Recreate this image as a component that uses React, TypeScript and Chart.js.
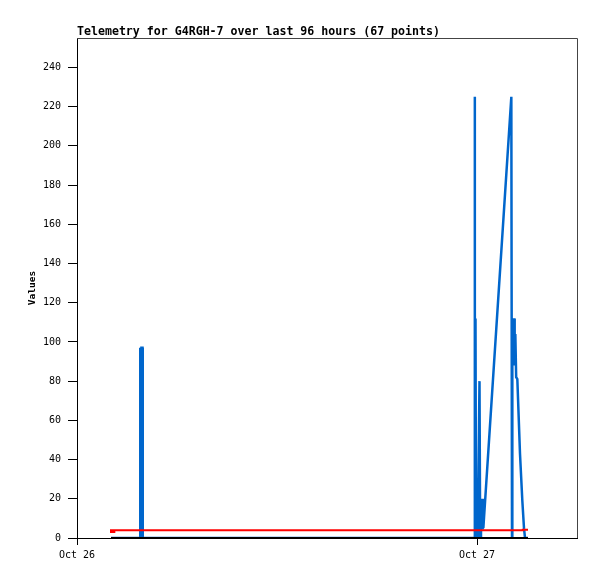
import React, { useEffect, useRef } from "react";
import { Chart, registerables } from "chart.js";

Chart.register(...registerables);

// Hours since Oct 26 00:00
const times = [
  2.04, 2.28, 2.34, 3.785, 3.795, 3.855, 3.865, 3.93, 3.945, 23.84, 23.86, 23.88, 23.91, 23.94, 23.97,
  24.0, 24.03, 24.06, 24.15, 24.19, 24.24, 24.3, 24.34, 24.38, 26.06, 26.1, 26.12, 26.18, 26.22,
  26.26, 26.3, 26.35, 26.42, 26.58, 26.72, 26.82, 26.88, 27.06,
];
const blueValues = [
  0, 0, 0, 0, 97, 0, 97, 97, 0, 0, 225, 0, 112, 0, 24,
  0, 16, 2, 80, 0, 20, 5, 20, 5, 225, 1, 112, 100, 112,
  88, 104, 82, 81, 43, 19, 5, 0, 0,
];
const blackValues = [
  0, 0, 0, 0, 0, 0, 0, 0, 0, 0, 0, 0, 0, 0, 0,
  0, 0, 0, 0, 0, 0, 0, 0, 0, 0, 0, 0, 0, 0,
  0, 0, 0, 0, 0, 0, 0, 0, 0,
];
// red series has its own sample times
const redTimes = [2.3, 2.04, 2.04, 26.7, 26.75, 27.06];
const redValues = [3, 3, 4, 4, 4.2, 4.2];

const xTickValues = [0, 24];
const xTickLabels = ["Oct 26", "Oct 27"];
const yTickValues = [0, 20, 40, 60, 80, 100, 120, 140, 160, 180, 200, 220, 240];
const titleText = "Telemetry for G4RGH-7 over last 96 hours (67 points)";
const yAxisTitle = "Values";

const toPoints = (ts: number[], vals: number[]) => vals.map((v, i) => ({ x: ts[i], y: v }));

const decorPlugin = {
  id: "decor",
  afterDraw(chart: any) {
    const { ctx, chartArea } = chart;
    ctx.save();
    // top and right frame
    ctx.strokeStyle = "#444";
    ctx.lineWidth = 1;
    ctx.beginPath();
    ctx.moveTo(chartArea.left, chartArea.top + 0.5);
    ctx.lineTo(chartArea.right + 0.5, chartArea.top + 0.5);
    ctx.lineTo(chartArea.right + 0.5, chartArea.bottom);
    ctx.stroke();
    // title
    ctx.fillStyle = "#000";
    ctx.font = "bold 11.6px 'DejaVu Sans Mono'";
    ctx.textAlign = "left";
    ctx.textBaseline = "alphabetic";
    ctx.fillText(titleText, chartArea.left, 34.5);
    // y axis title
    ctx.translate(35, (chartArea.top + chartArea.bottom) / 2);
    ctx.rotate(-Math.PI / 2);
    ctx.font = "bold 9.5px 'DejaVu Sans Mono'";
    ctx.textAlign = "center";
    ctx.textBaseline = "alphabetic";
    ctx.fillText(yAxisTitle, 0, 0);
    ctx.restore();
  },
};

export default function App() {
  const ref = useRef<HTMLCanvasElement>(null);
  useEffect(() => {
    if (!ref.current) return;
    const chart = new Chart(ref.current, {
      type: "line",
      data: {
        datasets: [
          {
            label: "black",
            data: toPoints(times, blackValues),
            borderColor: "#000000",
            borderWidth: 2,
            pointRadius: 0,
            tension: 0,
          },
          {
            label: "red",
            data: toPoints(redTimes, redValues),
            borderColor: "#ff0000",
            borderWidth: 2,
            pointRadius: 0,
            tension: 0,
          },
          {
            label: "blue",
            data: toPoints(times, blueValues),
            borderColor: "#0066cc",
            borderWidth: 2.5,
            pointRadius: 0,
            tension: 0,
          },
        ],
      },
      options: {
        animation: false,
        responsive: false,
        devicePixelRatio: 1,
        layout: { padding: { top: 38, right: 20, left: 0, bottom: 0 } },
        plugins: { legend: { display: false }, tooltip: { enabled: false }, title: { display: false } },
        scales: {
          x: {
            type: "linear",
            min: 0,
            max: 30,
            afterBuildTicks: (scale: any) => {
              scale.ticks = xTickValues.map((v) => ({ value: v }));
            },
            afterFit: (scale: any) => {
              scale.height = 41;
            },
            ticks: {
              autoSkip: false,
              maxRotation: 0,
              padding: 4,
              color: "#000",
              font: { family: "'DejaVu Sans Mono'", size: 10 },
              callback: (v: any) => {
                const i = xTickValues.indexOf(Number(v));
                return i >= 0 ? xTickLabels[i] : "";
              },
            },
            grid: { display: true, drawOnChartArea: false, drawTicks: true, tickLength: 7, color: "#000" },
            border: { display: true, color: "#000", width: 1 },
          },
          y: {
            type: "linear",
            min: 0,
            max: 255,
            afterBuildTicks: (scale: any) => {
              scale.ticks = yTickValues.map((v) => ({ value: v }));
            },
            afterFit: (scale: any) => {
              scale.width = 77;
            },
            ticks: {
              autoSkip: false,
              padding: 7,
              color: "#000",
              font: { family: "'DejaVu Sans Mono'", size: 10 },
            },
            grid: { display: true, drawOnChartArea: false, drawTicks: true, tickLength: 9, color: "#000" },
            border: { display: true, color: "#000", width: 1 },
          },
        },
      },
      plugins: [decorPlugin],
    });
    return () => chart.destroy();
  }, []);
  return (
    <div style={{ position: "fixed", left: 0, top: 0, width: 597, height: 579, background: "#fff" }}>
      <canvas ref={ref} width={597} height={579} style={{ display: "block" }} />
    </div>
  );
}
